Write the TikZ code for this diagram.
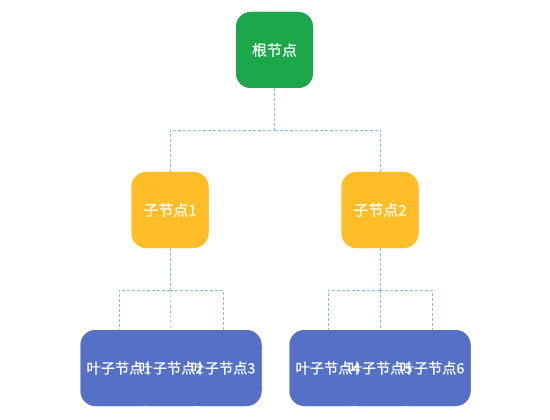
\documentclass[tikz,border=0pt]{standalone}
\usepackage{fontspec}
\setmainfont{Noto Sans CJK SC}[FakeBold=0.6]
\begin{document}
\begin{tikzpicture}[x=1pt,y=-1pt,
  box/.style={rounded corners=15pt, minimum width=77pt, minimum height=76pt, inner sep=0pt, text=white},
  rootbox/.style={box, fill=rootgreen, font=\fontsize{15}{17}\selectfont},
  midbox/.style={box, fill=midyellow, font=\fontsize{15}{17}\selectfont},
  leafbox/.style={box, fill=leafblue},
  leaftext/.style={text=white, font=\fontsize{14.2}{16}\selectfont, inner sep=0pt},
  link/.style={draw=linkblue, dashed, dash pattern=on 3pt off 2pt, line width=0.7pt}]
\definecolor{rootgreen}{RGB}{27,167,74}
\definecolor{midyellow}{RGB}{255,190,40}
\definecolor{leafblue}{RGB}{84,113,198}
\definecolor{linkblue}{RGB}{130,195,225}
\useasboundingbox (0,0) rectangle (550,420);
% connectors
\coordinate (rj) at (274.5,130);
\coordinate (aj) at (170,290);
\coordinate (bj) at (380,290);
\node[rootbox] (root) at (274.5,50) {};
\node[midbox] (c1) at (170,210) {};
\node[midbox] (c2) at (380,210) {};
\foreach \n/\x in {l1/119,l2/171,l3/223,l4/328,l5/380,l6/432}
  \node[leafbox] (\n) at (\x,368) {};
\draw[link] (root.south) -- (rj) -| (c1.north);
\draw[link] (rj) -| (c2.north);
\draw[link] (c1.south) -- (aj);
\draw[link] (aj) -| (l1.north);
\draw[link] (aj) -| (l3.north);
\draw[link] (aj) -- (l2.north);
\draw[link] (c2.south) -- (bj);
\draw[link] (bj) -| (l4.north);
\draw[link] (bj) -| (l6.north);
\draw[link] (bj) -- (l5.north);
% redraw boxes over connectors
\node[rootbox] at (root) {根节点};
\node[midbox] at (c1) {子节点1};
\node[midbox] at (c2) {子节点2};
\foreach \n in {l1,l2,l3,l4,l5,l6}
  \node[leafbox] at (\n) {};
\foreach \n/\t in {l1/叶子节点1,l2/叶子节点2,l3/叶子节点3,l4/叶子节点4,l5/叶子节点5,l6/叶子节点6}
  \node[leaftext] at (\n) {\t};
\end{tikzpicture}
\end{document}
